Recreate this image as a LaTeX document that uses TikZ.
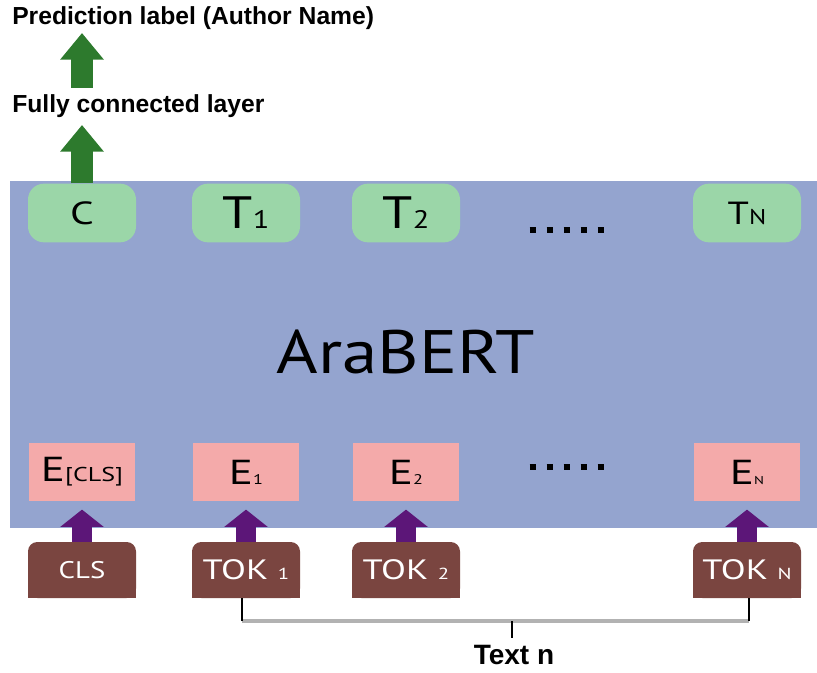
\documentclass[tikz,border=0pt]{standalone}
\usepackage{fontspec}
\usepackage{graphicx}
\setmainfont{Liberation Sans}
\newfontfamily\myr{PT Sans}
\usetikzlibrary{arrows.meta}
\definecolor{bertblue}{HTML}{94A4CF}
\definecolor{ogreen}{HTML}{9BD6A8}
\definecolor{epink}{HTML}{F4AAAA}
\definecolor{tokbrown}{HTML}{7A4540}
\definecolor{arrpurple}{HTML}{5C1678}
\definecolor{arrgreen}{HTML}{2D7A2D}
\newcommand{\fs}[1]{\fontsize{#1}{#1}\selectfont}
\newcommand{\wx}[1]{\scalebox{1.3}[1]{#1}}
\begin{document}
\begin{tikzpicture}[x=0.75pt,y=-0.75pt,
  outbox/.style={fill=ogreen, rounded corners=12pt, minimum width=81pt, minimum height=44pt, inner sep=0pt, font=\myr},
  embbox/.style={fill=epink, minimum width=80pt, minimum height=44pt, inner sep=0pt, font=\myr},
  tokbox/.style={minimum width=81pt, minimum height=42pt, inner sep=0pt, font=\myr, text=white,
    path picture={
      \fill[tokbrown, rounded corners=7pt] (path picture bounding box.south west) rectangle (path picture bounding box.north east);
      \fill[tokbrown] (path picture bounding box.south west) rectangle (path picture bounding box.east);
    }},
  lbl/.style={font=\bfseries\fs{18.5pt}, inner sep=0pt, anchor=base west},
  parr/.style={arrpurple, line width=15pt, -{Triangle[width=32pt,length=13pt]}},
  garr/.style={arrgreen, line width=16.5pt, -{Triangle[width=31.5pt,length=20pt]}},
  dots/.style={line width=3.8pt, dash pattern=on 4.5pt off 8.25pt},
  tick/.style={black, line width=2.2pt},
  hline/.style={black!30, line width=3pt}
]
\useasboundingbox (0,0) rectangle (817,673);
% AraBERT block
\fill[bertblue] (10,181) rectangle (817,528);
\node[font=\myr\fs{46pt}, inner sep=0pt] (bert) at (406,352) {\scalebox{1.16}[1]{AraBERT}};

% output row
\node[outbox] (c)  at (82,213)  {\wx{\fs{24pt}C}};
\node[outbox] (t1) at (246,213) {\raisebox{-0.8pt}{\scalebox{1.2}[1]{\fs{34pt}T\fs{19pt}1}}};
\node[outbox] (t2) at (406,213) {\raisebox{-0.8pt}{\scalebox{1.2}[1]{\fs{34pt}T\fs{19pt}2}}};
\node[outbox] (tn) at (747,213) {\raisebox{-1pt}{\scalebox{1.2}[1]{\fs{24pt}T\fs{16pt}N}}};
\node[inner sep=0pt, minimum width=55.5pt, minimum height=4pt] (odots) at (567,230) {};
\draw[dots] (odots.west) -- (odots.east);

% embedding row
\node[embbox] (ecls) at (82,472)  {\raisebox{-4pt}{\wx{\fs{26pt}E\fs{15pt}[CLS]}}};
\node[embbox] (e1)   at (246,472) {\raisebox{-4.5pt}{\wx{\fs{26pt}E\fs{10.5pt}1}}};
\node[embbox] (e2)   at (406,472) {\raisebox{-4.5pt}{\wx{\fs{26pt}E\fs{10.5pt}2}}};
\node[embbox] (en)   at (747,472) {\raisebox{-0.8pt}{\wx{\fs{26pt}E\fs{8.5pt}N}}};
\node[inner sep=0pt, minimum width=55.5pt, minimum height=4pt] (edots) at (567,467) {};
\draw[dots] (edots.west) -- (edots.east);

% token row
\node[tokbox] (cls)  at (82,570)  {\scalebox{1.2}[1]{\fs{18pt}CLS}};
\node[tokbox] (tok1) at (246,570) {\wx{\fs{21pt}TOK \fs{12pt}1}};
\node[tokbox] (tok2) at (406,570) {\wx{\fs{21pt}TOK \fs{12pt}2}};
\node[tokbox] (tokn) at (747,570) {\wx{\fs{21pt}TOK \fs{12pt}N}};

% purple arrows
\foreach \a/\b in {cls/ecls, tok1/e1, tok2/e2, tokn/en}
  \draw[parr, shorten >=6pt] (\a.north) -- (\b.south);

% labels
\node[lbl] (fcl) at (12,113) {Fully connected layer};
\node[lbl] (pred) at (12,25) {Prediction label (Author Name)};
\coordinate (cn) at (c.north);
\draw[garr] (cn) -- (cn |- 0,125);
\coordinate (fb) at (82,88);
\draw[garr] (fb) -- (82,33);

% bracket
\coordinate (b1) at (242,621);
\coordinate (b2) at (749,621);
\coordinate (bm) at (512,621);
\node[font=\bfseries\fs{21pt}, inner sep=0pt] (textn) at (514,655) {Text n};
\draw[hline] (b1) -- (b2);
\draw[tick] (b1) -- (b1 |- tok1.south);
\draw[tick] (b2) -- (b2 |- tokn.south);
\draw[tick] (bm) -- (512,638);
\end{tikzpicture}
\end{document}
